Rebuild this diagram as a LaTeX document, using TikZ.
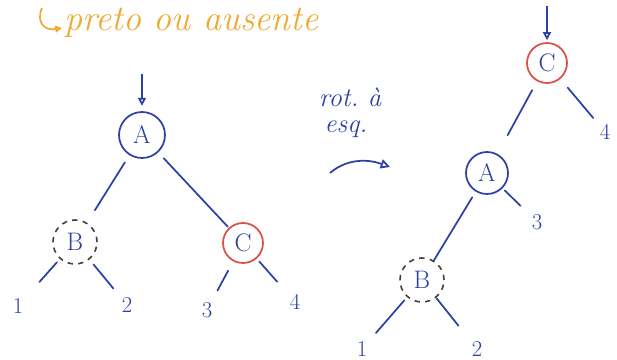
\documentclass[tikz,border=0pt]{standalone}
\usetikzlibrary{arrows.meta}
\definecolor{ink}{RGB}{45,65,165}
\definecolor{redink}{RGB}{220,80,70}
\definecolor{orink}{RGB}{240,170,50}
\begin{document}
\begin{tikzpicture}[x=0.75pt,y=-0.75pt,
  every node/.style={text=ink, font=\fontsize{17}{19}\selectfont, inner sep=0pt},
  vtx/.style={circle, draw=ink, line width=1.3pt, font=\fontsize{19}{21}\selectfont},
  redvtx/.style={circle, draw=redink, line width=1.3pt, font=\fontsize{19}{21}\selectfont},
  dashvtx/.style={circle, draw=black!75, line width=1.2pt, dash pattern=on 4pt off 4pt, font=\fontsize{19}{21}\selectfont},
  leaf/.style={minimum width=8pt, minimum height=11pt},
  edge/.style={draw=ink, line width=1.3pt, line cap=round},
  entry/.style={draw=ink, line width=1.3pt, -{Triangle[open,length=6pt,width=6pt]}},
  note/.style={text=ink, font=\fontsize{20}{22}\selectfont\itshape}
]
\useasboundingbox[fill=white] (0,0) rectangle (617,360);

% title
\coordinate (h0) at (42,8);
\coordinate (h1) at (62,28);
\draw[orink, line width=1.3pt, -{Triangle[open,length=5pt,width=5pt]}] (h0) .. controls (36,22) and (44,31) .. (h1);
\node[anchor=west, text=orink, font=\fontsize{27}{29}\selectfont\itshape] (title) at (64,23) {preto ou ausente};

% left tree
\node[vtx, minimum size=34.5pt] (A) at (142,135) {A};
\node[dashvtx, minimum size=33pt] (B) at (75,242) {B};
\node[redvtx, minimum size=30pt] (C) at (243,243) {C};
\node[leaf] (l1) at (18,306) {1};
\node[leaf] (l2) at (127,305) {2};
\node[leaf] (l3) at (207,310) {3};
\node[leaf] (l4) at (295,302) {4};
\coordinate (inA) at (142,74);

\draw[entry, shorten >=4pt] (inA) -- (A);
\draw[edge, shorten <=6.3pt, shorten >=11pt] (A) -- (B);
\draw[edge, shorten <=6pt, shorten >=1pt] (A) -- (C);
\draw[edge, shorten <=3.3pt, shorten >=17.8pt] (B) -- (l1);
\draw[edge, shorten <=4.7pt, shorten >=9.5pt] (B) -- (l2);
\draw[edge, shorten <=8pt, shorten >=9.8pt] (C) -- (l3);
\draw[edge, shorten <=2.9pt, shorten >=13.9pt] (C) -- (l4);

% rotation note
\node[note] (rot) at (350,97) {rot.\ à};
\node[note] (esq) at (346,129) {esq.};
\coordinate (r0) at (330,173);
\coordinate (r1) at (390,167);
\draw[ink, line width=1.3pt, -{Triangle[open,length=7pt,width=7pt]}] (r0) .. controls (345,160) and (365,158) .. (r1);

% right tree
\node[redvtx, minimum size=30pt] (C2) at (547,63) {C};
\node[vtx, minimum size=31.5pt] (A2) at (487,173) {A};
\node[dashvtx, minimum size=33pt] (B2) at (422,280) {B};
\node[leaf] (r4) at (605,132) {4};
\node[leaf] (r3) at (537,222) {3};
\node[leaf] (r1n) at (362,349) {1};
\node[leaf] (r2n) at (477,349) {2};
\coordinate (inC) at (547,6);

\draw[entry, shorten >=1.5pt] (inC) -- (C2);
\draw[edge, shorten <=7.6pt, shorten >=15.9pt] (C2) -- (A2);
\draw[edge, shorten <=8.5pt, shorten >=7.2pt] (C2) -- (r4);
\draw[edge, shorten <=2.3pt, shorten >=11.4pt] (A2) -- (r3);
\draw[edge, shorten <=4.9pt, shorten >=0pt] (A2) -- (B2);
\draw[edge, shorten <=3.1pt, shorten >=9.5pt] (B2) -- (r1n);
\draw[edge, shorten <=0.5pt, shorten >=15.6pt] (B2) -- (r2n);
\end{tikzpicture}
\end{document}
